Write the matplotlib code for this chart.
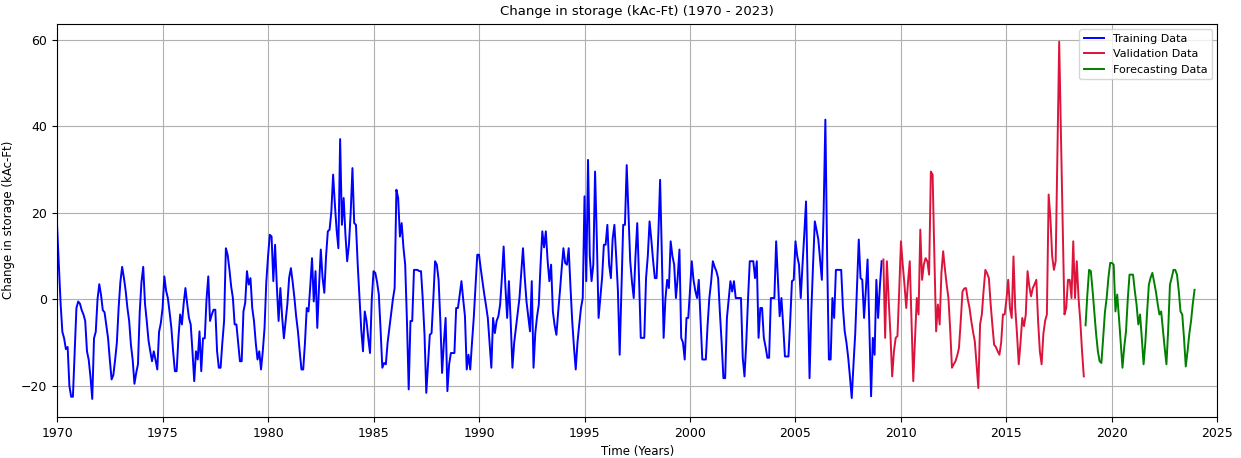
import numpy as np
import matplotlib
matplotlib.use("Agg")
import matplotlib.pyplot as plt

# Monthly change in storage (kAc-Ft), Jan 1970 - Feb 2009
training_values = [
    17, 8, -1, -7.5, -9, -11.5, -11, -20, -22.5, -22.5, -12, -2,          # 1970
    -0.5, -1, -2.5, -3.5, -5, -12, -14, -18, -23, -9, -7.5, 0,            # 1971
    3.5, 1, -2.5, -3, -6, -9, -14, -18.5, -17.5, -14, -10, -2,            # 1972
    4, 7.5, 5, 2, -2, -5, -10.5, -14, -19.5, -17, -15, -3,                # 1973
    4, 7.5, -1, -5, -9.5, -12, -14.3, -12, -14, -16.2, -7.5, -5.5,        # 1974
    -2, 5.3, 2, 0.3, -3, -6.6, -12, -16.6, -16.6, -9, -3.5, -5.8,         # 1975
    -1, 2.6, -1, -4.3, -5.8, -12, -18.9, -12, -13.9, -7.4, -16.6, -9,     # 1976
    -9, 0, 5.3, -5, -3.5, -2.4, -2.4, -12, -15.8, -15.8, -10, -5,         # 1977
    11.8, 10.3, 7, 3, 0.3, -5.8, -5.8, -10, -14.3, -14.3, -2.8, -0.8,     # 1978
    6.5, 3.4, 4.9, -2, -5, -10, -13.9, -12, -16.2, -12, -6.6, 4,          # 1979
    10, 14.9, 14.5, 4.2, 12.6, 3, -5, 2.6, -4, -9, -5, -1,                # 1980
    5, 7.2, 4, 0.3, -4, -7.4, -12, -16.2, -16.2, -10, -2, -2.8,           # 1981
    3, 9.5, -0.5, 6.5, -6.6, 3, 11.5, 5, 1.5, 10, 15.7, 16.1,             # 1982
    20.3, 28.8, 22, 16, 11.8, 37, 17.2, 23.4, 15, 8.8, 12.6, 20,          # 1983
    30.3, 17.6, 17.2, 8, 0.3, -7, -12, -2.8, -5, -9, -12.4, 0,            # 1984
    6.5, 6.1, 4, 1.1, -7, -15.8, -14.7, -15, -10, -6.6, -3, 0,            # 1985
    2.6, 25.3, 23.4, 14.5, 17.6, 12, 8, -5, -20.8, -5, -5, 6.8,           # 1986
    6.8, 6.8, 6.5, 6.5, 0, -8.2, -21.6, -15, -8.2, -7.8, 0, 8.8,          # 1987
    8, 4.5, -5, -17, -10, -4.3, -21.2, -15, -12.4, -12.4, -12.4, -2,      # 1988
    -2, 1, 4.2, 0, -3.9, -16.2, -12.8, -16.2, -10, -4.3, 3, 10.3,         # 1989
    10.3, 7, 4, 1.1, -1.5, -4.3, -10, -15.8, -4.3, -7.8, -5, -3.9,        # 1990
    -1.2, 5, 12.2, 3, -4.3, 4.2, -5, -15.8, -10, -6.6, -3, 0.3,           # 1991
    6, 11.8, 5, -0.5, -4, -7.4, 4.2, -15.8, -7.8, -4, -1.2, 8,            # 1992
    15.7, 12, 15.7, 9, 4.2, 8, -2.8, -6, -8.2, -3, 1.8, 7,                # 1993
    11.8, 8.4, 8, 11.8, 3, -5, -11, -16.2, -10, -5.8, -2, 0.3,            # 1994
    23.8, 4.2, 32.2, 10, 4.2, 8, 29.5, 14, -4.3, 0.3, 5, 12.6,            # 1995
    12.6, 17.2, 8, 4.9, 14, 17.2, 10, 2, -12.8, 2, 17.2, 17.2,            # 1996
    31, 20, 8.8, 4, 0.3, 10, 17.6, 5, -8.9, -8.9, -8.9, 4.9,              # 1997
    10, 18, 13.8, 9, 4.9, 4.9, 15, 27.6, 10, -8.9, 0, 4.5,                # 1998
    2.6, 13.4, 10, 8, 0.3, 5, 11.5, -8.9, -10, -13.9, -4.3, -4.3,         # 1999
    2, 8.8, 4.5, 2, 0.3, 4.5, -5, -13.9, -13.9, -13.9, -6, 0.3,           # 2000
    4, 8.8, 7.5, 6.5, 4.9, -3, -10, -18.2, -18.2, -4.3, 0, 4.2,           # 2001
    1.8, 4.2, 0.3, 0.3, 0.3, 0.3, -13.5, -17.8, -10, 0, 8.8, 8.8,         # 2002
    8.8, 4.9, 8.8, -8.9, -2, -2, -8.9, -11, -13.5, -13.5, 0.3, 0.3,       # 2003
    0.3, 13.4, 5, -3.9, 0.3, -6, -13.2, -13.2, -13.2, -5, 4.2, 4.5,       # 2004
    13.4, 10, 8, 0.3, 8, 15, 22.6, 2, -18.2, -2.8, 8, 18,                 # 2005
    16, 13.8, 9, 4.5, 20, 41.5, 10, -13.9, -13.9, 0.3, -4.3, 6.8,         # 2006
    6.8, 6.8, 6.8, -2, -7.4, -10, -13.5, -18, -22.8, -15, -7.8, 3,        # 2007
    13.8, 4.9, 4.5, -4.3, 2, 9.2, -6, -22.4, -8.9, -12.8, 4.5, -4.3,      # 2008
    3, 8.8,                                                              # 2009
]

# Mar 2009 - Sep 2018
validation_values = [
    9.2, -8.9, 8.8, 0, -8, -17.8, -12, -8.9, -8.5, 2,                     # 2009
    13.4, 8, 3.4, -2, 4, 8.8, -5, -18.9, -9, 0.3, -3.5, 16.1,             # 2010
    4.5, 8, 9.5, 8.8, 5.7, 29.5, 28.8, 10, -7.4, -1.2, -5.8, 6,           # 2011
    11.1, 7, 3.4, 0.3, -7, -15.8, -15, -14.3, -13, -11.2, -5, 1.8,        # 2012
    2.5, 2.6, 0, -2, -5, -7.5, -9.7, -15, -20.5, -5.8, -3.5, 2,           # 2013
    6.8, 6, 4.9, -1, -6, -10.5, -11, -12, -12.8, -10, -3.5, -3.5,         # 2014
    0, 4.5, -2, -4.3, 9.9, -2, -8, -15, -10, -4.3, -6.2, -3.5,            # 2015
    6.5, 3, 0.7, 2.6, 3.5, 4.5, -5, -12, -15, -8, -5, -3.5,               # 2016
    24.2, 18.8, 10, 6.8, 8.8, 34, 59.5, 38, 17, -3.5, -2, 4.5,            # 2017
    4.5, 0.3, 13.4, 0.3, 8.8, 0.3, -5, -12, -17.8,                        # 2018
]

# Oct 2018 - Dec 2023
forecast_values = [
    -6, 1, 6.8,                                                           # 2018
    6.5, 2, -3, -8, -12, -14.3, -14.7, -9, -3, 0.3, 5, 8.4,               # 2019
    8.4, 8, -2.8, 1.1, -4.3, -10, -15.8, -11, -7.4, 0, 5.7, 5.7,          # 2020
    5.7, 2, -1.2, -5.8, -3.5, -9, -15, -10, -3, 3.4, 5, 6.1,              # 2021
    4, 1.8, -1, -3.5, -2.8, -7, -11.2, -15, -7, 3.4, 5, 6.8,              # 2022
    6.8, 5.7, 2, -2.8, -3.5, -9, -15.5, -12, -8, -5, -1, 2.2,             # 2023
]

start_year = 1970
year_ticks = list(range(1970, 2026, 5))

n_train = len(training_values)
n_val = len(validation_values)
n_fc = len(forecast_values)
months = np.arange(n_train + n_val + n_fc)
t = start_year + months / 12.0

t_train = t[:n_train]
t_val = t[n_train:n_train + n_val]
t_fc = t[n_train + n_val:]

fig = plt.figure(figsize=(12.41, 4.58), dpi=100)
ax = fig.add_axes([0.046, 0.09, 0.935, 0.858])

ax.plot(t_train, training_values, color="blue", lw=1.4, label="Training Data")
ax.plot(t_val, validation_values, color="#dc143c", lw=1.4, label="Validation Data")
ax.plot(t_fc, forecast_values, color="green", lw=1.4, label="Forecasting Data")

ax.set_xlim(1970, 2025)
ax.set_xticks(year_ticks)
ax.set_title("Change in storage (kAc-Ft) (1970 - 2023)", fontsize=9.5)
ax.set_xlabel("Time (Years)", fontsize=8.5)
ax.set_ylabel("Change in storage (kAc-Ft)", fontsize=8.5)
ax.tick_params(labelsize=9)
ax.grid(True)
ax.legend(loc="upper right", fontsize=8, handlelength=1.8)

fig.savefig("out.png", dpi=100)
